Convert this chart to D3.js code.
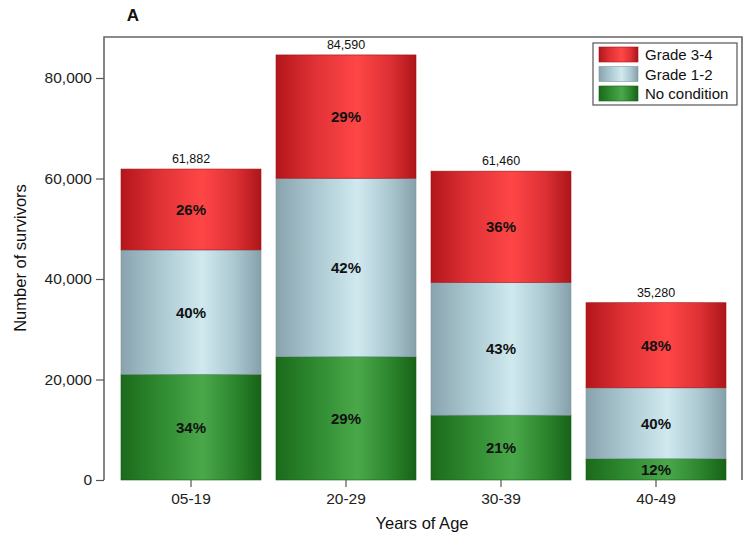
<!DOCTYPE html>
<html>
<head>
<meta charset="utf-8">
<script src="https://cdn.jsdelivr.net/npm/d3@7"></script>
<style>
  html, body { margin: 0; padding: 0; background: #fff; }
  svg { display: block; font-family: "Liberation Sans", Arial, sans-serif; }
</style>
</head>
<body>
<svg id="chart" width="750" height="543"></svg>
<script>
// ---- data ----
const categories = ["05-19", "20-29", "30-39", "40-49"];
const noCondition = [21040, 24531, 12907, 4234];
const grade12     = [24753, 35528, 26428, 14112];
const grade34     = [16089, 24531, 22126, 16934];
const totals      = [61882, 84590, 61460, 35280];
const seriesNames = ["No condition", "Grade 1-2", "Grade 3-4"];
const yTicks      = [0, 20000, 40000, 60000, 80000];

(function () {
const svg = d3.select("#chart");
const pLeft = 104, pRight = 742, pTop = 37, pBottom = 480;

const x = d3.scaleBand().domain(categories)
  .range([113.5, 733.5]).paddingInner(15 / 155).paddingOuter(7.5 / 155);
const y = d3.scaleLinear().domain([0, 88160]).range([pBottom, pTop]);

// gradients
const defs = svg.append("defs");
const grads = {
  "No condition": ["#1b6a1b", "#2f8a30", "#4aa84a", "#2c852d", "#176217"],
  "Grade 1-2":    ["#89a3ad", "#aac8d1", "#d0e9ef", "#a9c6cf", "#86a0aa"],
  "Grade 3-4":    ["#b3161b", "#e03236", "#ff4646", "#dc3034", "#ad1519"]
};
const offsets = ["0%", "28%", "58%", "82%", "100%"];
const strokes = { "No condition": "#1a5e1a", "Grade 1-2": "#7f97a0", "Grade 3-4": "#a01418" };
Object.entries(grads).forEach(([k, cols], i) => {
  const g = defs.append("linearGradient").attr("id", "g" + i)
    .attr("x1", "0%").attr("x2", "100%").attr("y1", "0%").attr("y2", "0%");
  cols.forEach((c, j) => g.append("stop").attr("offset", offsets[j]).attr("stop-color", c));
});
const gradId = { "No condition": "url(#g0)", "Grade 1-2": "url(#g1)", "Grade 3-4": "url(#g2)" };

// stacked data
const rows = categories.map((c, i) => ({
  cat: c, "No condition": noCondition[i], "Grade 1-2": grade12[i], "Grade 3-4": grade34[i], total: totals[i]
}));
const stack = d3.stack().keys(seriesNames)(rows);

const gBars = svg.append("g");
stack.forEach(layer => {
  const key = layer.key;
  gBars.selectAll(null).data(layer).enter().append("rect")
    .attr("x", d => x(d.data.cat))
    .attr("width", x.bandwidth())
    .attr("y", d => y(d[1]))
    .attr("height", d => y(d[0]) - y(d[1]))
    .attr("fill", gradId[key])
    .attr("stroke", strokes[key])
    .attr("stroke-width", 0.6);
  gBars.selectAll(null).data(layer).enter().append("text")
    .attr("x", d => x(d.data.cat) + x.bandwidth() / 2)
    .attr("y", d => (y(d[0]) + y(d[1])) / 2 + 5.5)
    .attr("text-anchor", "middle")
    .attr("font-weight", "bold")
    .attr("font-size", "15px")
    .attr("fill", "#111")
    .text(d => Math.round(100 * (d[1] - d[0]) / d.data.total) + "%");
});

// totals
svg.append("g").selectAll("text").data(rows).enter().append("text")
  .attr("x", d => x(d.cat) + x.bandwidth() / 2)
  .attr("y", d => y(d.total) - 6)
  .attr("text-anchor", "middle")
  .attr("font-size", "12.5px")
  .attr("fill", "#111")
  .text(d => d3.format(",")(d.total));

// frame (left, top, right)
svg.append("path")
  .attr("d", `M${pLeft},${pBottom}V${pTop}H${pRight}V${pBottom}`)
  .attr("fill", "none").attr("stroke", "#666").attr("stroke-width", 1.6);

// y axis
const yAxis = d3.axisLeft(y).tickValues(yTicks).tickFormat(d3.format(",")).tickSize(8).tickPadding(4);
const gy = svg.append("g").attr("transform", `translate(${pLeft},0)`).call(yAxis);
gy.select(".domain").remove();
gy.selectAll(".tick line").attr("stroke", "#555").attr("stroke-width", 1.2);
gy.selectAll(".tick text").attr("font-size", "15.5px").attr("fill", "#222")
  .attr("font-family", "Liberation Sans, Arial, sans-serif");

// x axis
const xAxis = d3.axisBottom(x).tickSize(7).tickPadding(6);
const gx = svg.append("g").attr("transform", `translate(0,${pBottom})`).call(xAxis);
gx.select(".domain").remove();
gx.selectAll(".tick line").attr("stroke", "#555").attr("stroke-width", 1.2);
gx.selectAll(".tick text").attr("font-size", "15.5px").attr("fill", "#222")
  .attr("font-family", "Liberation Sans, Arial, sans-serif");

// titles
svg.append("text").attr("x", 422).attr("y", 529).attr("text-anchor", "middle")
  .attr("font-size", "16.5px").attr("fill", "#111").text("Years of Age");
svg.append("text").attr("transform", "translate(26,258) rotate(-90)").attr("text-anchor", "middle")
  .attr("font-size", "16.5px").attr("fill", "#111").text("Number of survivors");
svg.append("text").attr("x", 133).attr("y", 21).attr("text-anchor", "middle")
  .attr("font-size", "17px").attr("font-weight", "bold").attr("fill", "#111").text("A");

// legend
const legendItems = seriesNames.slice().reverse();
const lg = svg.append("g");
lg.append("rect").attr("x", 593).attr("y", 43).attr("width", 144).attr("height", 62)
  .attr("fill", "#fff").attr("stroke", "#555").attr("stroke-width", 1.2);
legendItems.forEach((k, i) => {
  lg.append("rect").attr("x", 599).attr("y", 47 + i * 19.5).attr("width", 39).attr("height", 15)
    .attr("fill", gradId[k]).attr("stroke", strokes[k]).attr("stroke-width", 0.6);
  lg.append("text").attr("x", 645).attr("y", 60 + i * 19.5).attr("font-size", "15px")
    .attr("fill", "#111").text(k);
});
})();
</script>
</body>
</html>
